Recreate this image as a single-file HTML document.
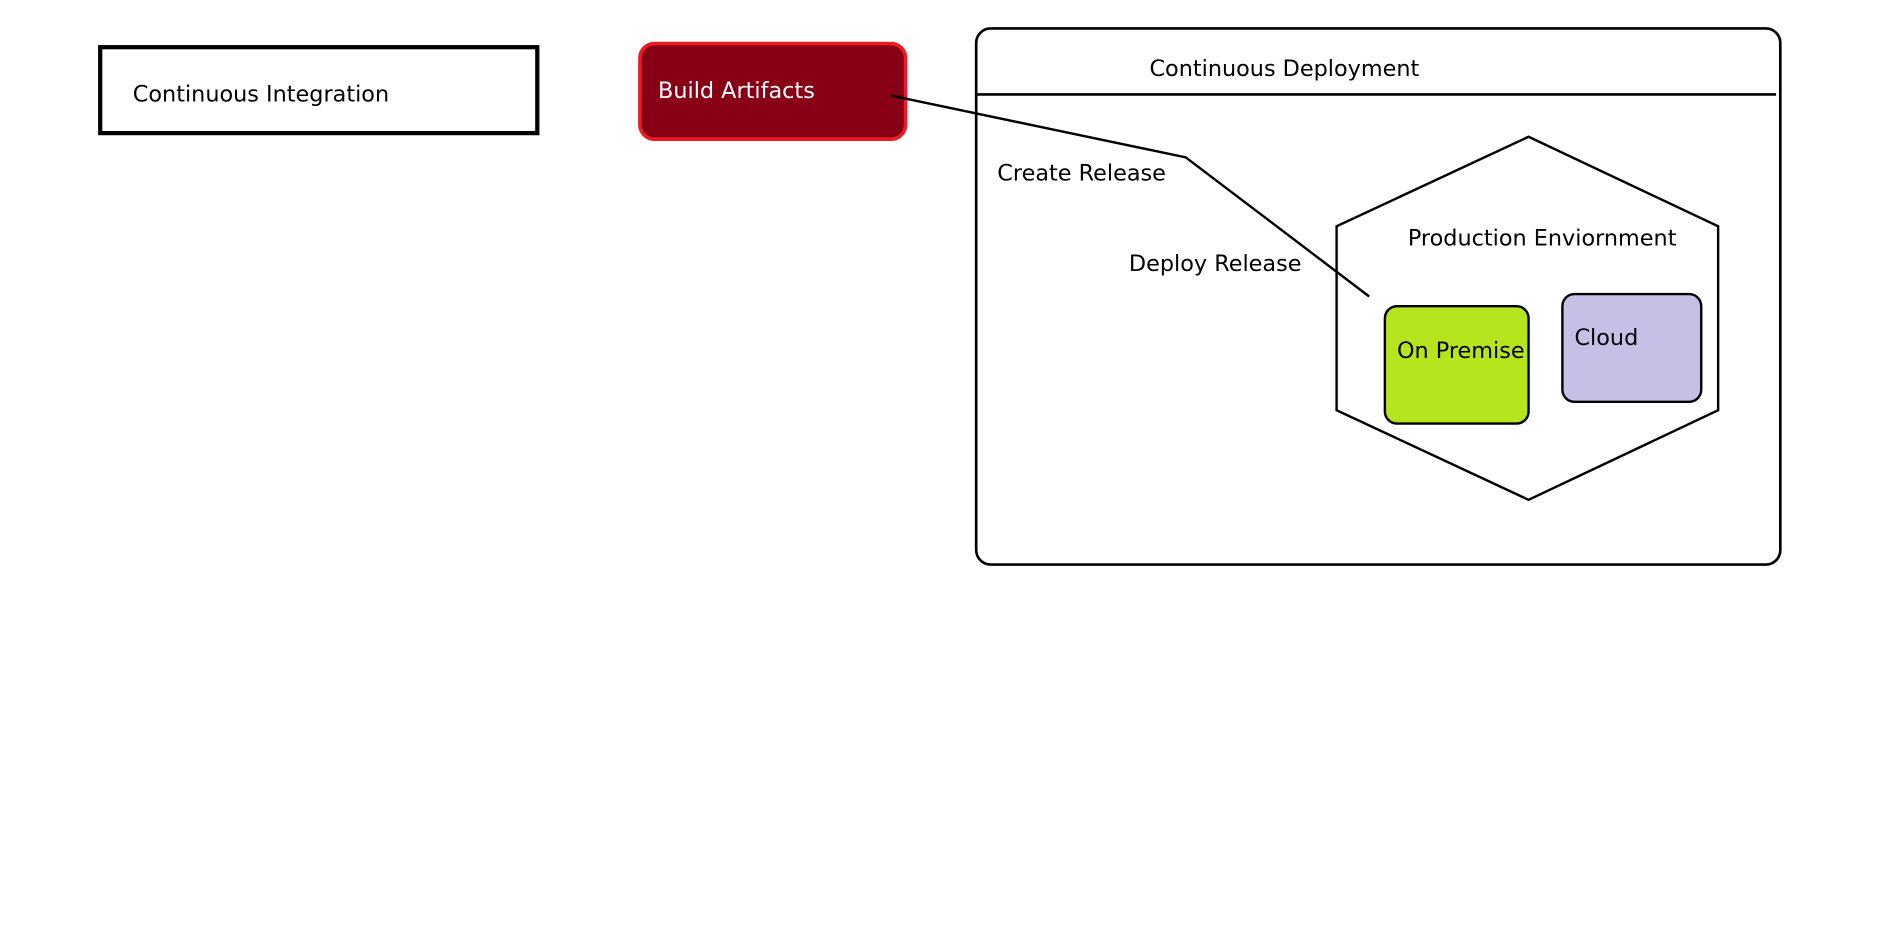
<!DOCTYPE html>
<html><head><meta charset="utf-8"><style>
html,body{margin:0;padding:0;background:#fff;width:1892px;height:927px;overflow:hidden}
svg{display:block}
text{font-family:"DejaVu Sans","Liberation Sans",sans-serif;font-size:18.5px;fill:#000}
</style></head><body>
<svg width="1892" height="927" viewBox="0 0 1567 766" preserveAspectRatio="none">
<rect x="83" y="39" width="362" height="71" fill="#fff" stroke="#000" stroke-width="3.5"/>
<text x="110" y="84">Continuous Integration</text>
<rect x="530" y="36" width="220" height="79" rx="12" fill="#880016" stroke="#ED1C24" stroke-width="3"/>
<text x="545" y="81" style="fill:#fff">Build Artifacts</text>
<rect x="808.5" y="23.5" width="666" height="443" rx="12" fill="none" stroke="#000" stroke-width="2.2"/>
<line x1="808" y1="78" x2="1471" y2="78" stroke="#000" stroke-width="2.2"/>
<text x="952" y="63">Continuous Deployment</text>
<polygon points="1266,113 1423,187 1423,339 1266,413 1107,339 1107,187" fill="none" stroke="#000" stroke-width="2"/>
<polyline points="738,79 982,130 1134,245" fill="none" stroke="#000" stroke-width="2"/>
<text x="826" y="149">Create Release</text>
<text x="935" y="224">Deploy Release</text>
<text x="1166" y="203">Production Enviornment</text>
<rect x="1147" y="253" width="119" height="97" rx="10" fill="#B5E61D" stroke="#000" stroke-width="2"/>
<text x="1157" y="296">On Premise</text>
<rect x="1294" y="243" width="115" height="89" rx="10" fill="#C8BFE7" stroke="#000" stroke-width="2"/>
<text x="1304" y="285">Cloud</text>
</svg>
</body></html>
